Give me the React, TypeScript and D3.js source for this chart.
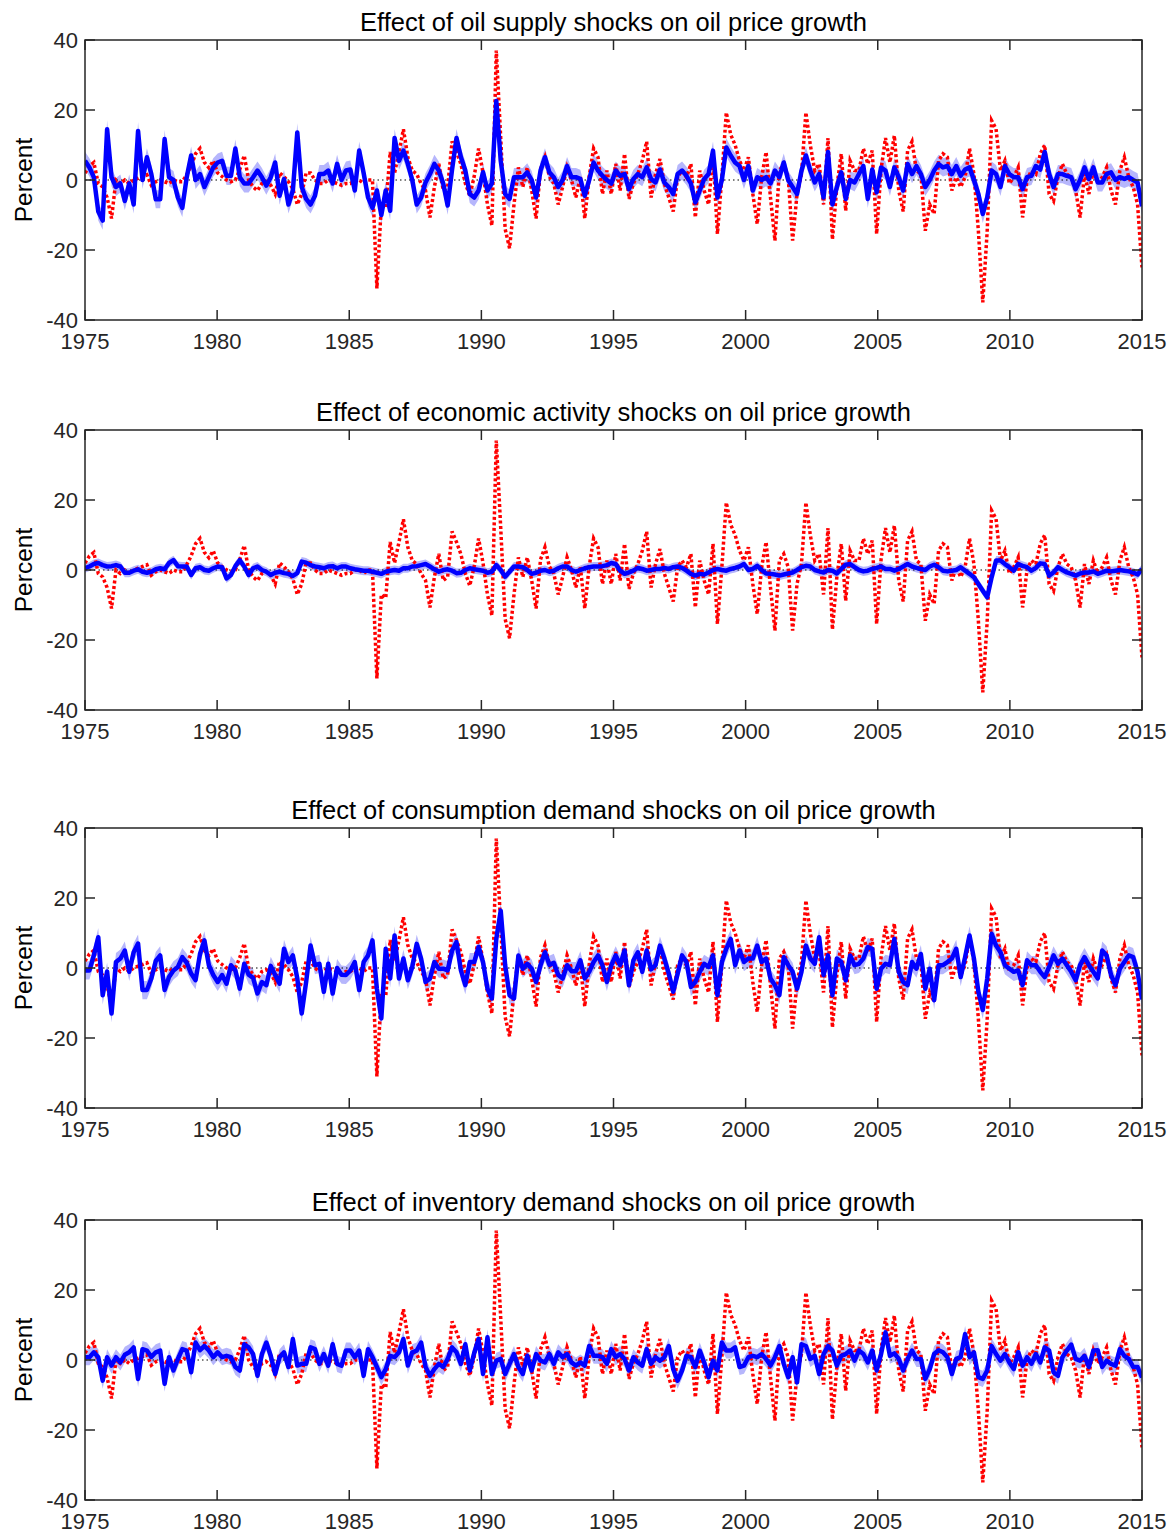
import React from "react";
import * as d3 from "d3";

// Actual oil price growth (bimonthly samples, 1975–2015), identical in all panels
const actual = [
  2,4,5,-1,-2,-5,-11,0,-1,0,
  -1,0,0.5,1,1.5,-1.5,-0.5,0,-0.5,-1,
  0,-0.5,-0.5,1.5,4,7.5,9,5,3.5,5.5,
  2,1,0,-0.5,0,3,7,0,-2,-3,
  -1,-0.5,-1.5,-4,2,1,-0.5,-2.5,-7,-4,
  2,2,0,-1,-1,0,-0.5,-1,-1.5,-1,
  -1,0,0,-1,0,0,-31,-7,-8,8,
  2,8,14.5,6.5,2.7,1.7,-1,-3,-10.7,-2,
  4.6,-3,-2,11,8,4.5,-1,-4.5,1,9,
  2,-7,-13,37,12,-14,-19.5,-7,3.6,-2,
  3.6,-3,-11,3,6.5,1,-1,-7,-2,3.6,
  0,-5,1,-11,1,9,6.5,-4,2.7,-4,
  4.6,-3,7.5,-5.4,-1,1.7,5.5,11,-5,1.7,
  6,-1,-5,-9,0.8,2.7,0.8,4.6,-10.7,2.7,
  -3,-7,7.5,-15.4,0.8,19.3,13,10,5.5,2.7,
  6.5,-4,-12.6,0.8,8,-5,-17.3,2.7,4.6,0.8,
  -17.3,-4,1.7,19.3,10,2.7,4.6,-7,12,-17,
  -2,7.5,-8.8,5.5,2.7,2.7,9,4.6,8.4,-15.4,
  3,12,5,12.7,-3,-9,8.4,11,2.7,1.7,
  -14.5,-7,-9.7,5.5,7.5,6.5,-3,0.8,-2,0.8,
  9,1.7,-14.5,-35,-14.5,17,14.6,2.7,5.5,-1,
  0.8,3.6,-10.7,0,2.7,1.7,7.5,10,-4,-6,
  0.8,4.6,1.7,0.8,-3,-10.7,1.7,-4,2.7,-1,
  0.8,3.6,-3,-7,2.7,6.5,0.8,-2,-7,-25,
];

const supplyEffect = [
  5.5,3.6,0.8,-9,-11.6,14.5,0.8,-2,-1,-6,
  -1,-7,14,0,6.5,1.7,-5.5,-5.5,11.7,0.8,
  0,-5,-8,0.8,7,0,1.7,-2,0.8,3.6,
  5,5.5,1.2,1.2,9,0.8,-1,-1,0.8,2.7,
  0.8,-1.6,0.8,5,-4.5,0.3,-7,-3,13.6,-2,
  -5.4,-7,-4.5,1.7,1.7,2.7,-1,4.6,0,2.7,
  3,-3,8.4,2,-5,-8,-3,-10,-3,-8.8,
  12,5.5,8.4,4.6,0,-7,-5,-0.7,1.7,4.6,
  2.7,-1,-7.3,3,12,6.5,2.7,-4,-5,-3,
  2.2,-3,-1,22.6,5.5,-4,-5.4,0.8,0.8,0.8,
  2.2,0,-5,2.7,6.5,2.2,0.8,-2,0,4,
  0.8,0.8,0.3,-4.5,0,5,2.7,1.2,0,-1,
  2.7,1.2,1.7,-2.6,0.3,1.7,0.8,3.6,0.3,-0.7,
  3,-0.7,-2,-4,1.7,2.7,1.2,-1,-6.4,-3,
  0.3,1.7,8.4,-5,0,9.3,7,5,4,0,
  4,-3,0.8,0,0.8,-1,2.7,0.8,5,0,
  -2,-4,2.7,7,2.7,-0.7,1.7,-5,8,-7,
  -2,2.2,-5.4,0,-0.7,1.7,4,-5.4,3,-3.5,
  3.6,2.7,-2,3.6,0.8,-3,4.6,1.7,4,1.7,
  -2,0,2.7,4.6,3.6,4,1.7,4,1.2,3,
  3.6,0,-4,-9.7,-5,2.7,1.7,-2,4,1.7,
  0.8,0.8,-2.6,0.8,1.2,4,3,8,1.7,-2,
  1.7,1.7,1.2,0.8,-2.6,0,3.6,0.3,3.6,-0.7,
  -0.7,1.7,2.2,0,0.8,0.3,0.8,0,-0.7,-7.5,
];

const activityEffect = [
  0.5,1,1.7,2,1.4,1,1.1,1.4,1,-0.8,
  -0.8,-0.2,0.2,-0.5,-0.8,-0.5,0.2,0.5,0.2,2,
  2.8,1.1,1,1,-1.4,0.5,0.8,0,-0.2,0.5,
  1,0.8,-2.4,-1.4,1.1,2.8,1,-1.4,0.5,1,
  0,-0.5,-1.4,-0.8,-0.5,-0.9,-1.1,-1.7,-0.9,2.4,
  2.1,1.4,1,0.8,0.5,1,1.1,0.5,1,1,
  0.5,0.2,0,-0.2,-0.2,-0.5,-0.8,-1.1,-0.5,-0.2,
  0,-0.2,0.5,0.5,1,1.1,1.4,1.7,1,0.2,
  -0.5,0,0.2,-0.2,-0.9,-0.8,0,0.5,0.2,0,
  -0.2,-0.8,-0.5,1.4,0,-1.9,-0.5,1,1,0.8,
  0,-1.1,-0.8,-0.2,0,-0.5,-0.2,0.5,1,1,
  0,-0.5,0,0.5,0.8,1,1,1.1,1.4,2,
  1.7,-0.2,-1.1,-0.7,-0.2,0.6,0.3,-0.2,0,0.3,
  0.3,0.6,0.3,0.8,1,0.6,-0.2,-1.1,-1.6,-1.1,
  -1.3,-0.7,0,0.3,0,-0.2,0.3,0.6,1,1.7,
  0,0.3,1.2,0,-1,-1.1,-1.3,-1.6,-1.3,-1,
  -0.7,0,0.8,1.2,1,0,-0.4,-0.7,0,-0.2,
  -1,0.3,1.5,1.7,0.8,0,-0.4,-0.2,0.3,0.6,
  1,0.3,0.3,-0.2,0.3,1,1.7,1,0.6,0.3,
  0,1,1.5,0.8,-0.2,-0.4,-0.2,0,0.8,-0.2,
  -1.1,-2.1,-4,-5.9,-7.8,-2.1,2.7,2.7,1.7,0.8,
  -0.2,1.7,1.2,0.8,-0.2,0.6,1.9,1.7,-1.6,-0.7,
  0.8,0,-0.7,-1.1,-1.6,-1,-0.7,-0.7,-0.4,-1.1,
  -0.7,-0.2,-0.4,-0.2,0,-0.2,-0.4,-0.7,-1.3,0.3,
];

const consumptionEffect = [
  -0.7,-0.7,3.6,8.8,-7.8,-1,-13,1.7,2.7,5,
  -1.1,4.5,7,-6.3,-6.3,-3,2,3.6,-6.3,-2.6,
  -0.7,0.3,3.1,1.5,-1.6,-3.5,4,7.9,0.8,-2,
  -4,-2,-4.5,0.8,-0.7,-5.9,1.2,-1.9,-2.8,-7.3,
  -4,-4.9,0.6,-2,-4.5,5.5,1.7,3.6,-3,-13,
  -4,6.4,0.8,1.2,-6.8,1.2,-7.3,0,-1.9,-2,
  -0.7,1.7,-6.3,1.7,3.6,7.9,-6,-14.4,5.5,-3,
  9.3,-3,2.7,-3.5,0.3,6.9,2.7,-4,-3,1.7,
  -0.2,-0.2,-0.7,5,7.4,-0.7,-4.9,1.7,1.7,6,
  1.7,-5.9,-8.7,8.3,16.4,0.8,-7.8,-8.7,3.6,-0.2,
  1.2,-0.2,-4,0.8,4.5,0.9,1.5,-2,-3,0.8,
  -0.9,-0.9,2.2,-3,-1.1,1.7,3.6,0.8,-4,0.8,
  3.6,0.8,5,-4.9,2.2,4.5,-1.1,5,-0.4,0.8,
  6.4,2.7,-1.6,-6.8,-1.6,3.6,1.7,-5.4,-4,-1.1,
  1.2,0.3,3.6,-7.8,1.7,5.5,8.3,0.8,5,1.7,
  2.7,2.7,6.4,1.7,2.7,-3,-4.9,-7.8,3.1,0.8,
  -1.1,-5.9,-1.1,6.4,2.7,1.2,8.8,-2,3.6,-7.8,
  2.7,1.7,-3.5,3.6,0.8,1.2,2.7,6,5.5,-5.9,
  -0.2,1.2,0.8,8.3,-1.1,-4,-4.9,1.7,-0.2,4,
  -5.9,-0.2,-9.2,0.8,0.8,1.7,2.7,5.5,-2.6,3.1,
  9.3,2.7,-6.8,-12,-3,9.8,6.4,4.5,0.8,-0.2,
  -1.1,-0.7,-4.9,2.2,0.8,0.8,-1.1,-2.6,0.3,3.6,
  1.2,2.7,0.8,-1.1,-3.5,0.8,3.1,0.8,-1.1,-3,
  5,3.6,-2,-4.9,-0.2,1.7,3.6,3.1,-1.1,-9,
];

const inventoryEffect = [
  0.8,0.8,2.2,0.8,-5.9,0.8,-1.6,0.8,-0.7,1.5,
  2.2,3.6,-5.4,3.1,2.7,0.9,2.2,2.7,-6.8,0.8,
  -3,0.3,3.1,2.7,-3.5,5,2.8,4,2.7,0.8,
  2.2,0.8,1.2,0.8,-2,-3,4.5,3.6,1.7,-4.5,
  1.7,5,1.2,-4,0.8,2.2,-2,6,-1.6,-1.1,
  -1.1,3.6,3.1,-1.1,1.7,-1.6,4.5,-1.1,-1.6,2.7,
  2.7,0.8,2.7,-4.5,3.1,0.8,-2,-4.9,-2.6,1.2,
  0.8,2.2,6,-1.6,2.2,2.7,5,-2,-4.5,-2.6,
  -1.1,-2,0.3,3.6,2.2,-1.1,4.5,-3,2,6,
  -4,6.5,-4,-0.2,0.3,-4,-1.1,1.7,-2,-4,
  1.2,-3,1.7,-0.2,-0.7,1.7,-1.1,2.2,0.8,1.7,
  -0.7,-1.6,-0.7,-1.6,4,1.2,1.2,0.8,-1.1,3.1,
  0.8,1.7,0.3,-3,0.8,-0.7,-1.6,3.1,-1.1,0.8,
  -0.2,0.8,4,-2.6,-5.9,-3,1.2,0.8,-2,2.7,
  -0.7,-4.9,-0.2,-3,5,2.7,2.7,3.6,-2,-1.6,
  0.8,1.2,0.8,1.7,0.3,-1.6,0.8,4,-1.1,-4.9,
  0.8,-6.4,4.5,4,0.3,1.2,-4,1.7,4,2.7,
  -1.6,1.2,1.7,2.7,-0.2,2.7,1.7,-0.7,2.7,-3,
  1.7,7.9,1.2,1.9,0.3,-3,0.3,2.7,0.3,0.3,
  -5.4,-2.6,1.7,2.8,2.2,0.8,-4,0.3,0.8,7.4,
  0.8,2.2,-4.9,-5.4,-3,4,1.7,-0.2,1.7,-0.7,
  -2.6,2.2,-1.6,0.8,-1.1,1.7,-0.7,3.6,2.7,-3.5,
  -4.5,0.8,2.7,4.4,0.3,-0.2,1.2,-2,2.7,2.8,
  -2,-0.2,-1.1,-1.6,3.1,1.2,0.3,-2,-2,-5,
];

const titles = [
  "Effect of oil supply shocks on oil price growth",
  "Effect of economic activity shocks on oil price growth",
  "Effect of consumption demand shocks on oil price growth",
  "Effect of inventory demand shocks on oil price growth",
];
const effects = [supplyEffect, activityEffect, consumptionEffect, inventoryEffect];
const bandHalfWidth = [2.6, 1.3, 2.6, 2.3];
const xTicks = [1975, 1980, 1985, 1990, 1995, 2000, 2005, 2010, 2015];
const yTicks = [-40, -20, 0, 20, 40];
const startYear = 1975;
const endYear = 2015;

const W = 1176;
const H = 1535;
const left = 85;
const right = 1142;
const panelTops = [40, 430, 828, 1220];
const panelH = 280;
const FONT = "'Liberation Sans', Arial, Helvetica, sans-serif";
const axisColor = "#262626";

function Panel({ top, title, effect, band }: { top: number; title: string; effect: number[]; band: number }) {
  const n = actual.length;
  const dates = actual.map((_, i) => startYear + (i * (endYear - startYear)) / (n - 1));
  const x = d3.scaleLinear().domain([startYear, endYear]).range([left, right]);
  const y = d3.scaleLinear().domain([-40, 40]).range([top + panelH, top]);
  const line = d3
    .line<number>()
    .x((_, i) => x(dates[i]))
    .y((d) => y(d));
  const area = d3
    .area<number>()
    .x((_, i) => x(dates[i]))
    .y0((d) => y(d - band))
    .y1((d) => y(d + band));
  const clipId = `clip-${top}`;
  return (
    <g>
      <defs>
        <clipPath id={clipId}>
          <rect x={left} y={top} width={right - left} height={panelH} />
        </clipPath>
      </defs>
      <text x={(left + right) / 2} y={top - 9} textAnchor="middle" fontFamily={FONT} fontSize={25.5} fill="#000">
        {title}
      </text>
      <g clipPath={`url(#${clipId})`}>
        <path d={area(effect) || ""} fill="#b6b6fc" stroke="none" />
        <line x1={left} x2={right} y1={y(0)} y2={y(0)} stroke="#000" strokeWidth={1} strokeDasharray="1.5 3" />
        <path d={line(actual) || ""} fill="none" stroke="#ff0000" strokeWidth={3.5} strokeDasharray="3 2.5" />
        <path d={line(effect) || ""} fill="none" stroke="#0000ff" strokeWidth={4.5} strokeLinejoin="round" />
      </g>
      <rect x={left} y={top} width={right - left} height={panelH} fill="none" stroke={axisColor} strokeWidth={1.5} />
      {xTicks.map((t) => (
        <g key={`x${t}`}>
          <line x1={x(t)} x2={x(t)} y1={top + panelH} y2={top + panelH - 10} stroke={axisColor} strokeWidth={1.5} />
          <line x1={x(t)} x2={x(t)} y1={top} y2={top + 10} stroke={axisColor} strokeWidth={1.5} />
          <text x={x(t)} y={top + panelH + 29} textAnchor="middle" fontFamily={FONT} fontSize={22} fill="#262626">
            {t}
          </text>
        </g>
      ))}
      {yTicks.map((t) => (
        <g key={`y${t}`}>
          <line x1={left} x2={left + 10} y1={y(t)} y2={y(t)} stroke={axisColor} strokeWidth={1.5} />
          <line x1={right} x2={right - 10} y1={y(t)} y2={y(t)} stroke={axisColor} strokeWidth={1.5} />
          <text x={left - 7} y={y(t) + 8} textAnchor="end" fontFamily={FONT} fontSize={22} fill="#262626">
            {t}
          </text>
        </g>
      ))}
      <text
        transform={`translate(32, ${top + panelH / 2}) rotate(-90)`}
        textAnchor="middle"
        fontFamily={FONT}
        fontSize={24.5}
        fill="#000"
      >
        Percent
      </text>
    </g>
  );
}

export default function App() {
  return (
    <svg width={W} height={H} style={{ position: "absolute", left: 0, top: 0, background: "#fff" }}>
      <rect width={W} height={H} fill="#fff" />
      {panelTops.map((top, k) => (
        <Panel key={k} top={top} title={titles[k]} effect={effects[k]} band={bandHalfWidth[k]} />
      ))}
    </svg>
  );
}
